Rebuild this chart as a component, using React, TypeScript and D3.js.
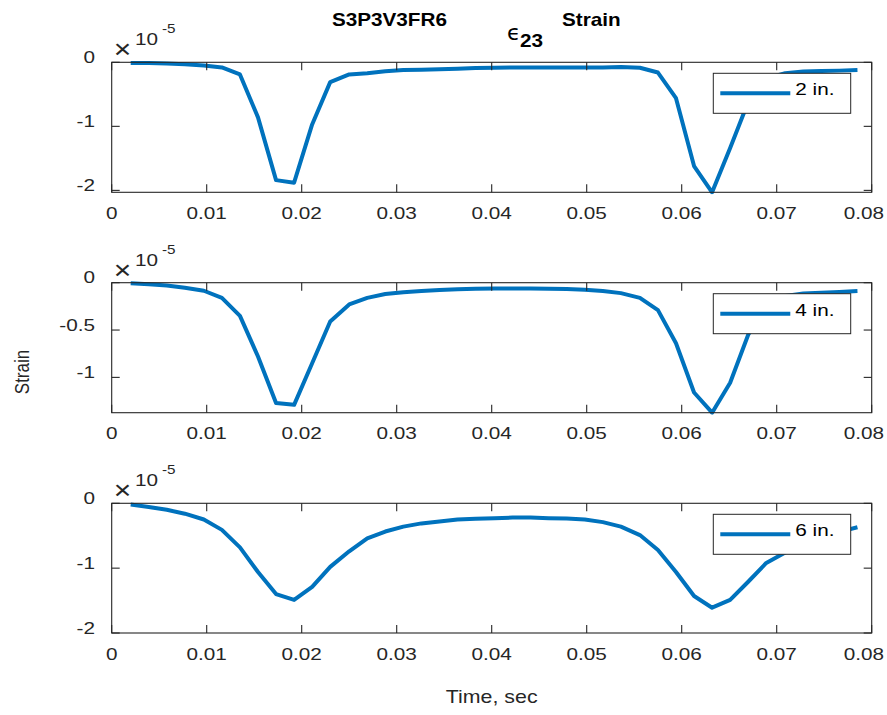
import React from "react";
import * as d3 from "d3";

const time = [
  0.0020, 0.0039, 0.0058, 0.0077, 0.0097, 0.0116, 0.0135, 0.0154, 0.0173, 0.0192,
  0.0211, 0.0230, 0.0250, 0.0269, 0.0288, 0.0307, 0.0326, 0.0345, 0.0364, 0.0383,
  0.0403, 0.0422, 0.0441, 0.0460, 0.0479, 0.0498, 0.0517, 0.0536, 0.0556, 0.0575,
  0.0594, 0.0613, 0.0632, 0.0651, 0.0670, 0.0689, 0.0709, 0.0728, 0.0747, 0.0766,
  0.0785,
];

// strain values in units of 1e-5
const strain2in = [
  -0.01, -0.01, -0.02, -0.03, -0.05, -0.08, -0.19, -0.86, -1.84, -1.88,
  -0.97, -0.31, -0.19, -0.17, -0.14, -0.12, -0.115, -0.11, -0.10, -0.09,
  -0.085, -0.08, -0.08, -0.08, -0.08, -0.08, -0.08, -0.075, -0.085, -0.16,
  -0.56, -1.62, -2.03, -1.34, -0.62, -0.25, -0.17, -0.145, -0.135, -0.13,
  -0.12,
];
const strain4in = [
  -0.006, -0.017, -0.03, -0.053, -0.085, -0.16, -0.35, -0.78, -1.27, -1.29,
  -0.85, -0.41, -0.23, -0.16, -0.12, -0.10, -0.088, -0.077, -0.07, -0.063,
  -0.06, -0.06, -0.06, -0.063, -0.067, -0.074, -0.088, -0.11, -0.16, -0.29,
  -0.64, -1.16, -1.373, -1.056, -0.55, -0.25, -0.14, -0.115, -0.105, -0.097,
  -0.088,
];
const strain6in = [
  -0.02, -0.056, -0.1, -0.16, -0.25, -0.41, -0.68, -1.06, -1.40, -1.49,
  -1.29, -0.98, -0.74, -0.54, -0.435, -0.36, -0.31, -0.28, -0.25, -0.24,
  -0.23, -0.22, -0.22, -0.23, -0.235, -0.25, -0.29, -0.36, -0.49, -0.72,
  -1.06, -1.43, -1.61, -1.49, -1.21, -0.92, -0.76, -0.62, -0.52, -0.44,
  -0.37,
];

const legendLabels = ["2 in.", "4 in.", "6 in."];
const xTicks = [0, 0.01, 0.02, 0.03, 0.04, 0.05, 0.06, 0.07, 0.08];
const yTicks1 = [0, -1, -2];
const yTicks2 = [0, -0.5, -1];
const yTicks3 = [0, -1, -2];
const yLim1 = [-2.03, 0];
const yLim2 = [-1.373, 0];
const yLim3 = [-2, 0];

const panels = [
  { data: strain2in, label: legendLabels[0], ticks: yTicks1, lim: yLim1, top: 62.3, bottom: 192.3 },
  { data: strain4in, label: legendLabels[1], ticks: yTicks2, lim: yLim2, top: 282.7, bottom: 412.7 },
  { data: strain6in, label: legendLabels[2], ticks: yTicks3, lim: yLim3, top: 503.3, bottom: 633 },
];

const AX = "#262626";
const LINE = "#0072BD";
const FONT = "'Liberation Sans', Arial, Helvetica, sans-serif";
const LEFT = 111.7;
const RIGHT = 871.7;
const TL = 8;
const SX = 1.22;
const TF = 17;

function T({
  x,
  y,
  children,
  size = TF,
  anchor = "start",
  weight = "normal",
  fill = AX,
  sx = SX,
  family = FONT,
}: any) {
  return (
    <text
      transform={`translate(${x},${y}) scale(${sx},1)`}
      textAnchor={anchor}
      fontSize={size}
      fontWeight={weight}
      fill={fill}
      fontFamily={family}
    >
      {children}
    </text>
  );
}

function Panel({ p }: { p: (typeof panels)[number] }) {
  const x = d3.scaleLinear().domain([0, 0.08]).range([LEFT, RIGHT]);
  const y = d3.scaleLinear().domain(p.lim).range([p.bottom, p.top]);
  const line = d3
    .line<number>()
    .x((_, i) => x(time[i]))
    .y((d) => y(d));
  const lgX = RIGHT - 21 - 137.4;
  const lgY = p.top + 11;
  return (
    <g>
      <defs>
        <clipPath id={"clip" + p.top}>
          <rect x={LEFT} y={p.top - 2} width={RIGHT - LEFT} height={p.bottom - p.top + 4} />
        </clipPath>
      </defs>
      <path
        d={line(p.data) || ""}
        fill="none"
        stroke={LINE}
        strokeWidth={4}
        strokeLinejoin="round"
        clipPath={`url(#clip${p.top})`}
      />
      <rect x={LEFT} y={p.top} width={RIGHT - LEFT} height={p.bottom - p.top} fill="none" stroke={AX} strokeWidth={1.1} />
      {xTicks.map((t, i) => {
        const last = i === xTicks.length - 1;
        return (
          <g key={t}>
            <line x1={x(t)} x2={x(t)} y1={p.bottom} y2={p.bottom - TL} stroke={AX} strokeWidth={1.1} />
            <line x1={x(t)} x2={x(t)} y1={p.top} y2={p.top + TL} stroke={AX} strokeWidth={1.1} />
            <T x={last ? 884 : x(t)} y={p.bottom + 26.5} anchor={last ? "end" : "middle"}>
              {String(t)}
            </T>
          </g>
        );
      })}
      {p.ticks.map((t) => (
        <g key={t}>
          <line x1={LEFT} x2={LEFT + TL} y1={y(t)} y2={y(t)} stroke={AX} strokeWidth={1.1} />
          <line x1={RIGHT} x2={RIGHT - TL} y1={y(t)} y2={y(t)} stroke={AX} strokeWidth={1.1} />
          <T x={95} y={y(t) + 0.6} anchor="end">
            {String(t)}
          </T>
        </g>
      ))}
      <T x={122.5} y={p.top - 4} anchor="middle" size={25} sx={1.2}>
        ×
      </T>
      <T x={135} y={p.top - 17}>10</T>
      <T x={162} y={p.top - 29} size={12.5}>
        -5
      </T>
      <rect x={lgX} y={lgY} width={137.4} height={40} fill="#fff" stroke={AX} strokeWidth={1} />
      <line x1={lgX + 7} x2={lgX + 77} y1={lgY + 20} y2={lgY + 20} stroke={LINE} strokeWidth={4} />
      <T x={lgX + 82} y={lgY + 22} fill="#000">
        {p.label}
      </T>
    </g>
  );
}

export default function App() {
  return (
    <svg
      width={887}
      height={715}
      style={{ display: "block", position: "absolute", left: 0, top: 0 }}
    >
      <rect width={887} height={715} fill="#fff" />
      {panels.map((p) => (
        <Panel key={p.top} p={p} />
      ))}
      <T x={332} y={26} size={18} weight="bold" fill="#000" sx={1.15}>
        S3P3V3FR6
      </T>
      <T x={507} y={40} size={22} fill="#000" family="'DejaVu Sans', sans-serif" sx={1.0}>
        ϵ
      </T>
      <T x={520} y={47} size={18} weight="bold" fill="#000" sx={1.15}>
        23
      </T>
      <T x={562} y={26} size={18} weight="bold" fill="#000" sx={1.15}>
        Strain
      </T>
      <text
        transform={`translate(29,372) scale(${SX},1) rotate(-90)`}
        textAnchor="middle"
        fontSize={17}
        fill={AX}
        fontFamily={FONT}
      >
        Strain
      </text>
      <T x={491.7} y={703} anchor="middle" size={17.5}>
        Time, sec
      </T>
    </svg>
  );
}
